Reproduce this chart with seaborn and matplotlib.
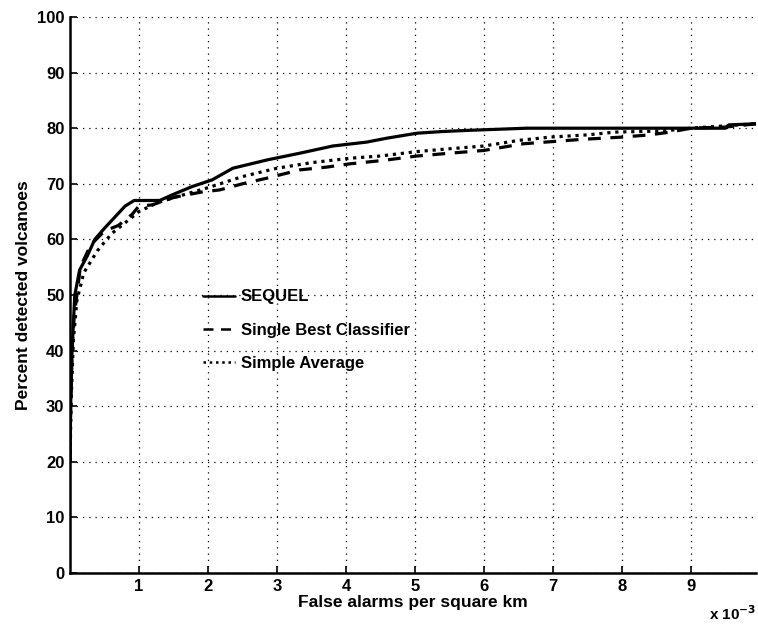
import pandas as pd
import numpy as np
import matplotlib
matplotlib.use("Agg")
import matplotlib.pyplot as plt
import seaborn as sns

# --- data (x in units of 1e-3 false alarms per km^2) ---
x_sequel = [0, 0.01, 0.03, 0.05, 0.07, 0.14, 0.25, 0.36, 0.5, 0.65, 0.8, 0.93, 1.3, 1.48,
            1.77, 2.06, 2.36, 2.86, 3.33, 3.81, 4.3, 4.59, 5.03, 5.4, 5.75, 6.62, 9.5, 9.55, 9.95]
y_sequel = [20, 30, 40, 45, 50, 54.5, 57, 60, 62, 64, 66, 67, 67, 68,
            69.5, 70.7, 72.8, 74.3, 75.5, 76.8, 77.5, 78.2, 79.1, 79.4, 79.6, 80, 80, 80.6, 80.8]

x_best = [0, 0.01, 0.03, 0.06, 0.15, 0.3, 0.5, 0.7, 0.9, 1.0, 1.19, 1.52, 1.9, 2.17, 2.5,
          2.85, 3.33, 3.72, 4.06, 4.54, 5.03, 5.5, 6.0, 6.57, 7.0, 7.43, 8.0, 8.4, 8.7, 9.0,
          9.5, 9.95]
y_best = [20, 30, 40, 46, 55, 59, 61.5, 62.5, 64.5, 66, 66.2, 67.6, 68.5, 68.9, 70,
          71, 72.5, 73, 73.6, 74.2, 75, 75.5, 76, 77.2, 77.6, 78, 78.4, 78.8, 79.3, 80,
          80.2, 80.8]

x_avg = [0, 0.02, 0.05, 0.1, 0.2, 0.4, 0.6, 0.8, 1.0, 1.25, 1.5, 2.0, 2.5, 3.0, 3.5, 4.06,
         4.5, 5.03, 5.5, 6.0, 6.5, 6.96, 7.5, 7.9, 8.6, 9.0, 9.95]
y_avg = [20, 32, 42, 49, 54, 58, 61, 63, 65, 66.5, 67.5, 69.3, 71.3, 72.8, 73.8, 74.6,
         75, 75.8, 76.3, 76.8, 77.8, 78.4, 78.8, 79.3, 79.5, 80, 80.8]

methods = ["SEQUEL", "Single Best Classifier", "Simple Average"]
x_ticks = [1, 2, 3, 4, 5, 6, 7, 8, 9]
y_ticks = list(range(0, 101, 10))

df = pd.concat([
    pd.DataFrame({"x": x_sequel, "y": y_sequel, "method": methods[0]}),
    pd.DataFrame({"x": x_best, "y": y_best, "method": methods[1]}),
    pd.DataFrame({"x": x_avg, "y": y_avg, "method": methods[2]}),
], ignore_index=True)

sns.set_style("ticks")
plt.rcParams['font.family'] = ['Liberation Sans', 'DejaVu Sans']
plt.rcParams['font.weight'] = 'bold'
for k in ['text.color', 'axes.labelcolor', 'xtick.color', 'ytick.color']:
    plt.rcParams[k] = 'black'

fig = plt.figure(figsize=(7.58, 6.25), dpi=100)
ax = fig.add_axes([0.0923, 0.0832, 0.9057, 0.8896])

ax.grid(True, which='major', color='black', linestyle=(0, (1, 4)), linewidth=0.9)
ax.set_axisbelow(True)

dash_map = {
    "SEQUEL": "",
    "Single Best Classifier": (4, 3),
    "Simple Average": (1, 1.5),
}
sns.lineplot(data=df, x="x", y="y", style="method", style_order=methods,
             dashes=dash_map, color="black", linewidth=2.3, sort=False,
             estimator=None, ax=ax)

ax.set_xlim(0, 9.95)
ax.set_ylim(0, 100)
ax.set_xticks(x_ticks)
ax.set_yticks(y_ticks)
ax.tick_params(direction='in', length=5, width=1.2, labelsize=12, pad=4)
for lab in ax.get_xticklabels() + ax.get_yticklabels():
    lab.set_fontweight('bold')

sns.despine(ax=ax, top=True, right=True)
for s in ['left', 'bottom']:
    ax.spines[s].set_linewidth(1.8)
    ax.spines[s].set_color('black')

ax.set_xlabel("False alarms per square km", fontsize=12.5, fontweight='bold', labelpad=1)
ax.set_ylabel("Percent detected volcanoes", fontsize=12.5, fontweight='bold', labelpad=4)

leg = ax.legend(loc='upper left', bbox_to_anchor=(0.194, 0.51), frameon=False,
                fontsize=12, handlelength=1.9, handletextpad=0.35, labelspacing=1.1,
                borderpad=0, borderaxespad=0)
for t in leg.get_texts():
    t.set_fontweight('bold')
    t.set_color('black')
for h in leg.get_lines():
    h.set_linewidth(1.8)
    h.set_color('black')

fig.text(0.998, 0.004, r"x 10$^{-3}$", ha='right', va='bottom', fontsize=11,
         fontweight='bold')

fig.savefig("out.png", dpi=100)
